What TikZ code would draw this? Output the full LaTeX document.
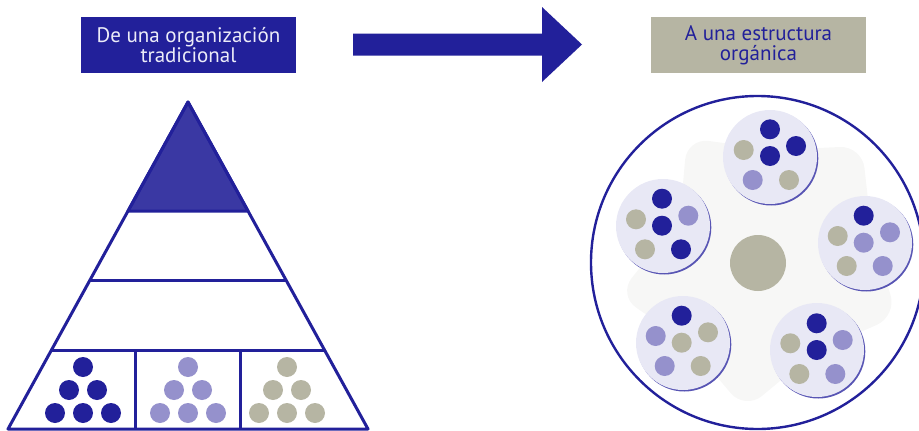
\documentclass[tikz,border=0pt]{standalone}
\usepackage{fontspec}
\setmainfont{PT Sans}
\definecolor{navy}{HTML}{22209A}
\definecolor{topfill}{HTML}{3A38A3}
\definecolor{lilac}{HTML}{9591CC}
\definecolor{taupe}{HTML}{B6B5A3}
\definecolor{pale}{HTML}{E8E8F5}
\definecolor{shade}{HTML}{5855B4}
\definecolor{blob}{HTML}{F7F7F6}
\definecolor{lighttext}{HTML}{ECECF8}
\tikzset{
  titlebox/.style={minimum width=215pt, minimum height=56pt, inner sep=0pt, align=center,
     font=\fontsize{21}{20}\selectfont},
  pyr/.style={draw=navy, line width=3pt, line join=round},
  dk/.style={fill=navy},
  lp/.style={fill=lilac},
  gy/.style={fill=taupe},
  group/.style={fill=pale},
  groupshade/.style={fill=shade},
}
\newcommand{\dotat}[3]{\fill[#1] (#2,#3) circle (10);}
\begin{document}
\begin{tikzpicture}[x=1pt,y=-1pt]
\useasboundingbox (0,0) rectangle (919,431);
% title boxes
\node[titlebox, fill=navy, text=lighttext] (left) at (188.5,45) {De una organización\\tradicional};
\node[titlebox, fill=taupe, text=navy] (right) at (758.5,45) {A una estructura\\orgánica};
% arrow
\fill[navy] (353,33.5) -- (542,33.5) -- (542,7) -- (582,44.5) -- (542,82) -- (542,55.7) -- (353,55.7) -- cycle;
% pyramid
\coordinate (apex) at (188,102);
\coordinate (bl) at (8,429);
\coordinate (br) at (368,429);
\filldraw[pyr, fill=topfill] (apex) -- (128,211) -- (248,211) -- cycle;
\draw[pyr] (apex) -- (bl) -- (br) -- cycle;
\draw[pyr] (90,280) -- (286,280);
\draw[pyr] (51.5,350) -- (324.5,350);
\draw[pyr] (135.7,350) -- (135.7,429);
\draw[pyr] (240.7,350) -- (240.7,429);
% pyramid dots
\foreach \c/\x in {dk/83, lp/188, gy/287}{
  \dotat{\c}{\x}{367}
  \dotat{\c}{\x-14}{390}
  \dotat{\c}{\x+14}{390}
  \dotat{\c}{\x-28}{413}
  \dotat{\c}{\x}{413}
  \dotat{\c}{\x+28}{413}
}
% organic structure
\fill[blob, rounded corners=22pt] (687,138) -- (775,150) -- (862,146) -- (872,235) -- (897,316) -- (815,352) -- (745,410) -- (690,345) -- (618,295) -- (680,218) -- cycle;
\draw[navy, line width=2.4pt] (757.5,262.5) circle (166.5);
\fill[taupe] (758,263) circle (28);
\foreach \x/\y in {770/157, 663/226, 865/243, 683/343, 817/350}{
  \fill[groupshade] (\x+1.3,\y+1.5) circle (47);
  \fill[group] (\x,\y) circle (47);
}
% top group
\dotat{dk}{770}{129.3}
\dotat{dk}{796}{146}
\dotat{dk}{770}{156}
\dotat{gy}{743.7}{150}
\dotat{lp}{752.7}{180}
\dotat{gy}{789}{180}
% left group
\dotat{dk}{662}{198.7}
\dotat{lp}{688.3}{215.7}
\dotat{dk}{662}{225.7}
\dotat{gy}{636}{219.3}
\dotat{gy}{645}{249.3}
\dotat{dk}{681}{249.3}
% right group
\dotat{dk}{863.7}{215.7}
\dotat{lp}{890}{232.3}
\dotat{lp}{863.7}{242.7}
\dotat{gy}{837.7}{236}
\dotat{gy}{846.7}{266}
\dotat{lp}{882.7}{266}
% bottom-left group
\dotat{dk}{681.7}{315.7}
\dotat{gy}{708}{332.3}
\dotat{gy}{681.7}{342.7}
\dotat{lp}{655.7}{336}
\dotat{lp}{664.7}{366}
\dotat{gy}{700.7}{366}
% bottom-right group
\dotat{dk}{816.7}{323.3}
\dotat{lp}{842.7}{340}
\dotat{dk}{816.7}{350}
\dotat{gy}{790.3}{343.3}
\dotat{gy}{799.3}{374}
\dotat{lp}{835.3}{374}
\end{tikzpicture}
\end{document}
